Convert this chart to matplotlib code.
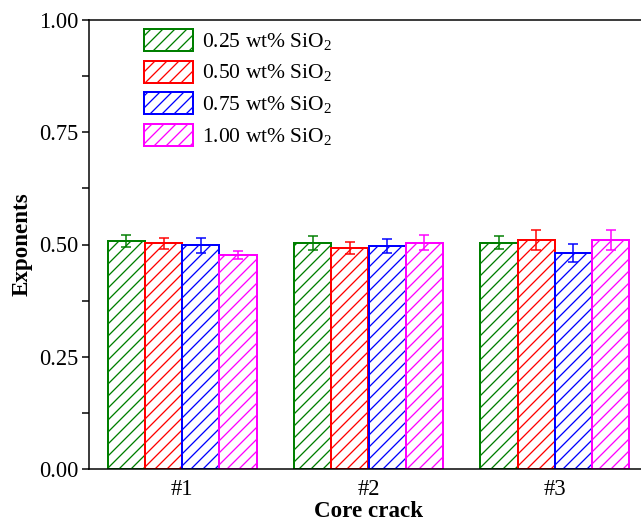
import numpy as np
import matplotlib
matplotlib.use("Agg")
import matplotlib.pyplot as plt
from matplotlib.ticker import MultipleLocator

plt.rcParams['font.family'] = ['Liberation Serif', 'DejaVu Serif']
plt.rcParams['mathtext.fontset'] = 'custom'
plt.rcParams['mathtext.rm'] = 'Liberation Serif'
plt.rcParams['hatch.linewidth'] = 1.3

# data
cracks = ['#1', '#2', '#3']
series = ['0.25 wt% SiO$_2$', '0.50 wt% SiO$_2$', '0.75 wt% SiO$_2$', '1.00 wt% SiO$_2$']
colors = ['#007f00', '#ff0000', '#0000ff', '#ff00ff']

exp_025 = [0.508, 0.504, 0.504]
exp_050 = [0.503, 0.492, 0.510]
exp_075 = [0.498, 0.497, 0.482]
exp_100 = [0.477, 0.504, 0.510]

err_025 = [0.013, 0.016, 0.014]
err_050 = [0.012, 0.013, 0.022]
err_075 = [0.016, 0.015, 0.020]
err_100 = [0.009, 0.017, 0.022]

means = [exp_025, exp_050, exp_075, exp_100]
errs = [err_025, err_050, err_075, err_100]

W, H = 641, 521
fig = plt.figure(figsize=(W / 72, H / 72), dpi=72)
# right part of the frame is cut off in the original
ax = fig.add_axes([89 / W, 1 - 469 / H, (648 - 89) / W, (469 - 20) / H])

x = np.arange(1, len(cracks) + 1)
bw = 0.2
for i in range(4):
    pos = x + (i - 1.5) * bw
    ax.bar(pos, means[i], bw, color='none', edgecolor=colors[i], hatch='//',
           linewidth=2, label=series[i], zorder=2)
    ax.errorbar(pos, means[i], yerr=errs[i], fmt='none', ecolor=colors[i],
                elinewidth=1.5, capsize=5, capthick=1.5, zorder=3)

ax.set_xlim(0.5, 3.5)
ax.set_ylim(0, 1.0)
ax.set_xticks(x)
ax.set_xticklabels(cracks)
ax.yaxis.set_major_locator(MultipleLocator(0.25))
ax.yaxis.set_minor_locator(MultipleLocator(0.125))
ax.yaxis.set_major_formatter(plt.FormatStrFormatter('%.2f'))
ax.tick_params(axis='y', which='major', direction='out', length=7, width=1.5,
               labelsize=22.5, pad=4)
ax.tick_params(axis='y', which='minor', direction='out', length=7, width=1.5)
ax.tick_params(axis='x', length=0, labelsize=22.5, pad=10)
for s in ax.spines.values():
    s.set_linewidth(1.5)

ax.set_xlabel('Core crack', fontsize=23, fontweight='bold', labelpad=1)
ax.set_ylabel('Exponents', fontsize=23, fontweight='bold', labelpad=6)

ax.legend(loc='upper left', bbox_to_anchor=(144 / W, 1 - 29 / H),
          bbox_transform=fig.transFigure, frameon=False, fontsize=21.5,
          handlelength=2.27, handleheight=1.2, handletextpad=0.45,
          labelspacing=0.36, borderpad=0, borderaxespad=0)

fig.savefig('out.png', dpi=72)
